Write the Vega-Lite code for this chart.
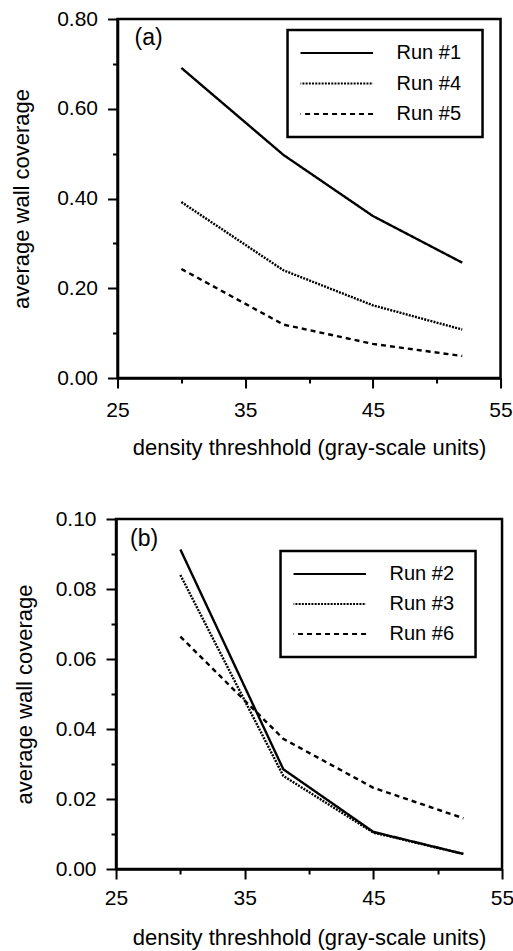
{
  "$schema": "https://vega.github.io/schema/vega-lite/v6.json",
  "padding": {"left": 9, "top": 6, "right": 0, "bottom": 0},
  "spacing": 46,
  "center": true,
  "datasets": {
    "a": [
      {"run": "Run #1", "threshold": 30, "coverage": 0.691},
      {"run": "Run #1", "threshold": 38, "coverage": 0.497},
      {"run": "Run #1", "threshold": 45, "coverage": 0.361},
      {"run": "Run #1", "threshold": 52, "coverage": 0.257},
      {"run": "Run #4", "threshold": 30, "coverage": 0.392},
      {"run": "Run #4", "threshold": 38, "coverage": 0.240},
      {"run": "Run #4", "threshold": 45, "coverage": 0.162},
      {"run": "Run #4", "threshold": 52, "coverage": 0.108},
      {"run": "Run #5", "threshold": 30, "coverage": 0.243},
      {"run": "Run #5", "threshold": 38, "coverage": 0.119},
      {"run": "Run #5", "threshold": 45, "coverage": 0.076},
      {"run": "Run #5", "threshold": 52, "coverage": 0.049}
    ],
    "b": [
      {"run": "Run #2", "threshold": 30, "coverage": 0.0913},
      {"run": "Run #2", "threshold": 38, "coverage": 0.0285},
      {"run": "Run #2", "threshold": 45, "coverage": 0.0106},
      {"run": "Run #2", "threshold": 52, "coverage": 0.0043},
      {"run": "Run #3", "threshold": 30, "coverage": 0.0840},
      {"run": "Run #3", "threshold": 38, "coverage": 0.0266},
      {"run": "Run #3", "threshold": 45, "coverage": 0.0104},
      {"run": "Run #3", "threshold": 52, "coverage": 0.0043},
      {"run": "Run #6", "threshold": 30, "coverage": 0.0664},
      {"run": "Run #6", "threshold": 38, "coverage": 0.0372},
      {"run": "Run #6", "threshold": 45, "coverage": 0.0232},
      {"run": "Run #6", "threshold": 52, "coverage": 0.0145}
    ]
  },
  "resolve": {"scale": {"strokeDash": "independent"}, "legend": {"strokeDash": "independent"}},
  "vconcat": [
    {
      "width": 383,
      "height": 359,
      "title": {"text": "(a)", "dx": 17, "dy": 46},
      "data": {"name": "a"},
      "mark": {"type": "line", "color": "black", "strokeWidth": 2.4},
      "encoding": {
        "x": {
          "field": "threshold", "type": "quantitative",
          "scale": {"domain": [25, 55], "nice": false, "zero": false},
          "axis": {
            "title": "density threshhold (gray-scale units)",
            "values": [25, 30, 35, 40, 45, 50, 55],
            "labelExpr": "datum.value % 10 == 5 ? datum.label : ''",
            "tickSize": {"condition": {"test": "datum.value % 10 == 5", "value": 10}, "value": 5},
            "labelPadding": 11,
            "titlePadding": 17
          }
        },
        "y": {
          "field": "coverage", "type": "quantitative",
          "scale": {"domain": [0, 0.8], "nice": false},
          "axis": {
            "title": "average wall coverage",
            "values": [0, 0.1, 0.2, 0.3, 0.4, 0.5, 0.6, 0.7, 0.8],
            "labelExpr": "round(datum.value*10) % 2 == 0 ? format(datum.value, '.2f') : ''",
            "tickSize": {"condition": {"test": "round(datum.value*10) % 2 == 0", "value": 10}, "value": 5},
            "labelPadding": 10,
            "titlePadding": 23
          }
        },
        "strokeDash": {
          "field": "run", "type": "nominal",
          "scale": {"domain": ["Run #1", "Run #4", "Run #5"], "range": [[1, 0], [2, 1.2], [5, 4]]},
          "legend": {
            "title": null, "orient": "none", "legendX": 170, "legendY": 11,
            "symbolType": "stroke", "symbolSize": 5929, "symbolStrokeWidth": 2.2, "symbolStrokeColor": "black",
            "clipHeight": 20, "rowPadding": 10.5, "padding": 13, "symbolOffset": -6, "labelOffset": 22,
            "labelFontSize": 20, "labelFont": "Liberation Sans", "labelColor": "black", "labelLimit": 200,
            "strokeColor": "black", "fillColor": "white",
            "encode": {
              "legend": {"update": {"strokeWidth": {"value": 2.5}}},
              "entries": {"update": {"width": {"value": 169}}}
            }
          }
        }
      }
    },
    {
      "width": 386,
      "height": 350,
      "title": {"text": "(b)", "dx": 14, "dy": 47},
      "data": {"name": "b"},
      "mark": {"type": "line", "color": "black", "strokeWidth": 2.4},
      "encoding": {
        "x": {
          "field": "threshold", "type": "quantitative",
          "scale": {"domain": [25, 55], "nice": false, "zero": false},
          "axis": {
            "title": "density threshhold (gray-scale units)",
            "values": [25, 30, 35, 40, 45, 50, 55],
            "labelExpr": "datum.value % 10 == 5 ? datum.label : ''",
            "tickSize": {"condition": {"test": "datum.value % 10 == 5", "value": 10}, "value": 5},
            "labelPadding": 8,
            "titlePadding": 19
          }
        },
        "y": {
          "field": "coverage", "type": "quantitative",
          "scale": {"domain": [0, 0.1], "nice": false},
          "axis": {
            "title": "average wall coverage",
            "values": [0, 0.01, 0.02, 0.03, 0.04, 0.05, 0.06, 0.07, 0.08, 0.09, 0.1],
            "labelExpr": "round(datum.value*100) % 2 == 0 ? format(datum.value, '.2f') : ''",
            "tickSize": {"condition": {"test": "round(datum.value*100) % 2 == 0", "value": 10}, "value": 5},
            "labelPadding": 10,
            "titlePadding": 19
          }
        },
        "strokeDash": {
          "field": "run", "type": "nominal",
          "scale": {"domain": ["Run #2", "Run #3", "Run #6"], "range": [[1, 0], [2, 1.2], [5, 4]]},
          "legend": {
            "title": null, "orient": "none", "legendX": 164.5, "legendY": 32,
            "symbolType": "stroke", "symbolSize": 5929, "symbolStrokeWidth": 2.2, "symbolStrokeColor": "black",
            "clipHeight": 20, "rowPadding": 10, "padding": 13, "symbolOffset": -6, "labelOffset": 22,
            "labelFontSize": 20, "labelFont": "Liberation Sans", "labelColor": "black", "labelLimit": 200,
            "strokeColor": "black", "fillColor": "white",
            "encode": {
              "legend": {"update": {"strokeWidth": {"value": 2.5}}},
              "entries": {"update": {"width": {"value": 169}}}
            }
          }
        }
      }
    }
  ],
  "config": {
    "font": "Liberation Sans",
    "view": {"stroke": "black", "strokeWidth": 2.5},
    "axis": {
      "grid": false,
      "domainColor": "black", "domainWidth": 2.5,
      "tickColor": "black", "tickWidth": 2,
      "labelFont": "Liberation Sans", "labelFontSize": 21, "labelColor": "black",
      "labelFlush": false, "labelOverlap": false,
      "titleFont": "Liberation Sans", "titleFontSize": 22, "titleFontWeight": "normal", "titleColor": "black"
    },
    "title": {
      "font": "Liberation Sans", "fontSize": 23, "fontWeight": "normal", "color": "black",
      "anchor": "start", "frame": "group", "orient": "top", "baseline": "top",
      "offset": 0
    }
  }
}
